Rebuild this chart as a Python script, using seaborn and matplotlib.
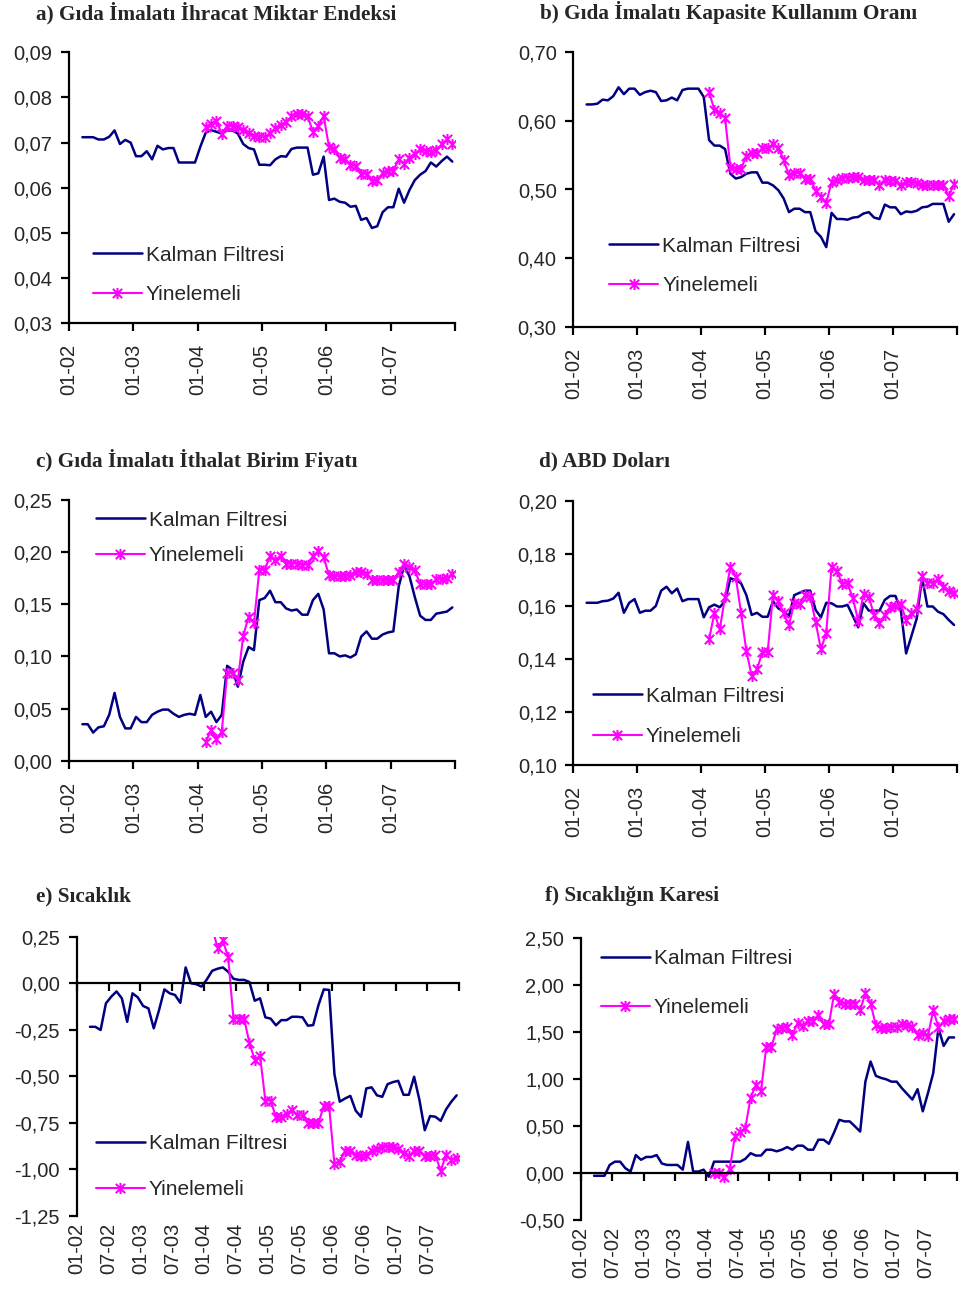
import matplotlib
matplotlib.use("Agg")
import matplotlib.pyplot as plt
import numpy as np
import pandas as pd
import seaborn as sns
from matplotlib.path import Path
from matplotlib.ticker import FuncFormatter

# monthly data, Jan 2002 - Dec 2007 (Excel category axis, points between ticks)
months = pd.date_range("2002-01-01", "2007-12-01", freq="MS")
kalman_start = 2   # Mar 2002
yin_start = 25     # Feb 2004

yearly_labels = ["01-02", "01-03", "01-04", "01-05", "01-06", "01-07", ""]
half_year_labels = ["01-02", "07-02", "01-03", "07-03", "01-04", "07-04",
                    "01-05", "07-05", "01-06", "07-06", "01-07", "07-07", ""]

titles = ["a) Gıda İmalatı İhracat Miktar Endeksi",
          "b) Gıda İmalatı Kapasite Kullanım Oranı",
          "c) Gıda İmalatı İthalat Birim Fiyatı",
          "d) ABD Doları",
          "e) Sıcaklık",
          "f) Sıcaklığın Karesi"]

a_yticks = [0.03, 0.04, 0.05, 0.06, 0.07, 0.08, 0.09]
b_yticks = [0.30, 0.40, 0.50, 0.60, 0.70]
c_yticks = [0.00, 0.05, 0.10, 0.15, 0.20, 0.25]
d_yticks = [0.10, 0.12, 0.14, 0.16, 0.18, 0.20]
e_yticks = [-1.25, -1.00, -0.75, -0.50, -0.25, 0.00, 0.25]
f_yticks = [-0.50, 0.00, 0.50, 1.00, 1.50, 2.00, 2.50]

a_kalman = [0.0712, 0.0712, 0.0712, 0.0707, 0.0707, 0.0713, 0.0727, 0.0697, 0.0706, 0.0700,
            0.0670, 0.0670, 0.0681, 0.0663, 0.0693, 0.0685, 0.0688, 0.0688, 0.0656, 0.0656,
            0.0656, 0.0656, 0.0691, 0.0722, 0.0728, 0.0724, 0.0720, 0.0727, 0.0727, 0.0720,
            0.0697, 0.0688, 0.0685, 0.0651, 0.0651, 0.0650, 0.0663, 0.0670, 0.0669, 0.0686,
            0.0689, 0.0689, 0.0689, 0.0629, 0.0632, 0.0669, 0.0573, 0.0576, 0.0569, 0.0567,
            0.0558, 0.0560, 0.0529, 0.0533, 0.0511, 0.0515, 0.0546, 0.0557, 0.0557, 0.0598,
            0.0567, 0.0595, 0.0617, 0.0629, 0.0637, 0.0656, 0.0647, 0.0659, 0.0669, 0.0658]
a_yin = [0.0735, 0.0741, 0.0749, 0.0719, 0.0737, 0.0737, 0.0734,
         0.0727, 0.0721, 0.0715, 0.0712, 0.0712, 0.0721, 0.0732, 0.0738, 0.0746, 0.0758,
         0.0763, 0.0763, 0.0759, 0.0724, 0.0737, 0.0759, 0.0691, 0.0687, 0.0665, 0.0663,
         0.0651, 0.0648, 0.0631, 0.0631, 0.0614, 0.0618, 0.0632, 0.0638, 0.0638, 0.0663,
         0.0653, 0.0667, 0.0675, 0.0685, 0.0682, 0.0680, 0.0684, 0.0696, 0.0707, 0.0697]

b_kalman = [0.624, 0.624, 0.625, 0.631, 0.630, 0.636, 0.649, 0.639, 0.647, 0.647,
            0.638, 0.642, 0.644, 0.642, 0.629, 0.630, 0.634, 0.630, 0.645, 0.647,
            0.647, 0.647, 0.635, 0.572, 0.564, 0.564, 0.559, 0.523, 0.516, 0.518,
            0.523, 0.525, 0.525, 0.510, 0.510, 0.506, 0.499, 0.487, 0.467, 0.472,
            0.472, 0.467, 0.467, 0.439, 0.431, 0.416, 0.466, 0.457, 0.457, 0.456,
            0.459, 0.460, 0.465, 0.467, 0.459, 0.457, 0.478, 0.474, 0.474, 0.464,
            0.468, 0.467, 0.469, 0.474, 0.475, 0.479, 0.479, 0.479, 0.453, 0.464]
b_yin = [0.642, 0.616, 0.611, 0.604, 0.533, 0.530, 0.530,
         0.549, 0.553, 0.553, 0.560, 0.560, 0.566, 0.561, 0.543, 0.521, 0.524,
         0.524, 0.515, 0.515, 0.498, 0.489, 0.480, 0.511, 0.514, 0.517, 0.517,
         0.518, 0.518, 0.514, 0.514, 0.514, 0.507, 0.514, 0.513, 0.513, 0.507,
         0.511, 0.511, 0.509, 0.506, 0.506, 0.506, 0.506, 0.507, 0.490, 0.508]

c_kalman = [0.035, 0.035, 0.027, 0.032, 0.033, 0.044, 0.065, 0.042, 0.031, 0.031,
            0.042, 0.037, 0.037, 0.044, 0.047, 0.049, 0.049, 0.045, 0.042, 0.044,
            0.045, 0.044, 0.063, 0.042, 0.047, 0.037, 0.044, 0.091, 0.087, 0.071,
            0.095, 0.109, 0.106, 0.154, 0.156, 0.163, 0.152, 0.152, 0.146, 0.144,
            0.145, 0.140, 0.140, 0.154, 0.160, 0.145, 0.103, 0.103, 0.100, 0.101,
            0.099, 0.102, 0.119, 0.124, 0.117, 0.117, 0.121, 0.123, 0.124, 0.167,
            0.187, 0.177, 0.157, 0.139, 0.135, 0.135, 0.141, 0.142, 0.143, 0.147]
c_yin = [0.018, 0.029, 0.021, 0.028, 0.084, 0.084, 0.077,
         0.120, 0.138, 0.132, 0.183, 0.183, 0.196, 0.192, 0.196, 0.189, 0.189,
         0.189, 0.188, 0.188, 0.196, 0.201, 0.195, 0.178, 0.177, 0.177, 0.177,
         0.178, 0.181, 0.181, 0.179, 0.173, 0.173, 0.173, 0.173, 0.173, 0.181,
         0.189, 0.186, 0.183, 0.169, 0.169, 0.169, 0.174, 0.174, 0.175, 0.179]

d_kalman = [0.1614, 0.1614, 0.1614, 0.1620, 0.1622, 0.1630, 0.1652, 0.1576, 0.1614, 0.1628,
            0.1576, 0.1584, 0.1584, 0.1602, 0.1660, 0.1675, 0.1650, 0.1668, 0.1620, 0.1628,
            0.1628, 0.1628, 0.1559, 0.1597, 0.1607, 0.1597, 0.1620, 0.1707, 0.1700, 0.1688,
            0.1643, 0.1568, 0.1576, 0.1561, 0.1561, 0.1620, 0.1593, 0.1580, 0.1564, 0.1643,
            0.1652, 0.1660, 0.1660, 0.1587, 0.1559, 0.1614, 0.1612, 0.1600, 0.1600, 0.1606,
            0.1564, 0.1521, 0.1612, 0.1584, 0.1584, 0.1584, 0.1625, 0.1640, 0.1640, 0.1587,
            0.1422, 0.1488, 0.1555, 0.1710, 0.1600, 0.1600, 0.1580, 0.1571, 0.1549, 0.1530]
d_yin = [0.1475, 0.1576, 0.1513, 0.1637, 0.1751, 0.1713, 0.1576,
         0.1432, 0.1336, 0.1362, 0.1427, 0.1427, 0.1645, 0.1622, 0.1574, 0.1530, 0.1614,
         0.1609, 0.1643, 0.1637, 0.1542, 0.1437, 0.1500, 0.1751, 0.1736, 0.1685, 0.1688,
         0.1631, 0.1546, 0.1647, 0.1635, 0.1568, 0.1536, 0.1568, 0.1597, 0.1600, 0.1609,
         0.1549, 0.1574, 0.1589, 0.1716, 0.1690, 0.1690, 0.1703, 0.1675, 0.1660, 0.1652]

e_kalman = [-0.234, -0.234, -0.251, -0.108, -0.072, -0.044, -0.081, -0.207, -0.054, -0.076,
            -0.122, -0.135, -0.242, -0.144, -0.033, -0.054, -0.063, -0.105, 0.085, 0.000,
            -0.005, -0.018, 0.021, 0.067, 0.078, 0.085, 0.062, 0.024, 0.018, 0.018,
            0.007, -0.094, -0.081, -0.183, -0.190, -0.226, -0.198, -0.198, -0.180, -0.180,
            -0.183, -0.228, -0.225, -0.117, -0.033, -0.036, -0.488, -0.636, -0.619, -0.605,
            -0.684, -0.717, -0.565, -0.559, -0.602, -0.610, -0.542, -0.531, -0.524, -0.599,
            -0.599, -0.502, -0.627, -0.789, -0.713, -0.717, -0.739, -0.678, -0.636, -0.602]
e_yin = [0.30, 0.19, 0.23, 0.14, -0.19, -0.19, -0.19,
         -0.32, -0.41, -0.39, -0.63, -0.63, -0.72, -0.72, -0.70, -0.68, -0.71,
         -0.71, -0.75, -0.75, -0.75, -0.66, -0.66, -0.97, -0.96, -0.90, -0.90,
         -0.92, -0.93, -0.92, -0.90, -0.89, -0.88, -0.88, -0.88, -0.89, -0.91,
         -0.93, -0.90, -0.90, -0.93, -0.93, -0.92, -1.01, -0.92, -0.95, -0.94]

f_kalman = [-0.03, -0.03, -0.03, 0.085, 0.12, 0.12, 0.05, 0.015, 0.19, 0.14,
            0.17, 0.17, 0.19, 0.10, 0.085, 0.085, 0.085, 0.035, 0.33, 0.015,
            0.015, 0.035, -0.04, 0.12, 0.12, 0.12, 0.12, 0.12, 0.12, 0.15,
            0.21, 0.185, 0.185, 0.247, 0.247, 0.23, 0.247, 0.275, 0.247, 0.29,
            0.29, 0.247, 0.247, 0.353, 0.353, 0.31, 0.43, 0.565, 0.548, 0.548,
            0.495, 0.44, 0.97, 1.184, 1.032, 1.01, 0.995, 0.97, 0.97, 0.90,
            0.84, 0.78, 0.89, 0.655, 0.85, 1.06, 1.54, 1.35, 1.44, 1.44]
f_yin = [0.00, 0.00, -0.04, 0.04, 0.39, 0.43, 0.48,
         0.80, 0.93, 0.87, 1.34, 1.34, 1.53, 1.54, 1.55, 1.47, 1.59,
         1.56, 1.62, 1.62, 1.68, 1.58, 1.58, 1.90, 1.82, 1.80, 1.80,
         1.80, 1.73, 1.91, 1.80, 1.57, 1.54, 1.54, 1.55, 1.55, 1.58,
         1.57, 1.55, 1.47, 1.49, 1.46, 1.73, 1.55, 1.61, 1.64, 1.64]

NAVY = "#000080"
MAGENTA = "#FF00FF"
W, H = 961, 1298

# Excel style star: an X with a vertical bar through it
star = Path([(-1, -1), (1, 1), (-1, 1), (1, -1), (0, -1.2), (0, 1.2)],
            [Path.MOVETO, Path.LINETO, Path.MOVETO, Path.LINETO, Path.MOVETO, Path.LINETO])

sns.set_style("ticks")
plt.rcParams["font.family"] = ["Liberation Sans", "DejaVu Sans"]

fig = plt.figure(figsize=(W / 100, H / 100), dpi=100)


def px_axes(left, top, right, bottom):
    return fig.add_axes([left / W, 1 - bottom / H, (right - left) / W, (bottom - top) / H])


def make_frame(kalman, yin):
    pos = np.arange(len(months)) + 0.5
    df = pd.DataFrame({"ay": months, "pos": pos})
    df["Kalman Filtresi"] = np.nan
    df.loc[kalman_start:kalman_start + len(kalman) - 1, "Kalman Filtresi"] = kalman
    df["Yinelemeli"] = np.nan
    df.loc[yin_start:yin_start + len(yin) - 1, "Yinelemeli"] = yin
    return df


def comma(v, p):
    return f"{v:.2f}".replace(".", ",")


panels = [
    # kalman, yin, yticks, box (l, t, r, b px), xlabels, step, zero axis, legend (x, mid y, spacing), title pos
    (a_kalman, a_yin, a_yticks, (69, 52.3, 455, 323.3), yearly_labels, 12, False, (92.7, 275, 1.0), (36, 13)),
    (b_kalman, b_yin, b_yticks, (573.3, 52.3, 956.7, 326.7), yearly_labels, 12, False, (609.3, 266, 1.0), (540, 13)),
    (c_kalman, c_yin, c_yticks, (69, 500, 455, 760.7), yearly_labels, 12, False, (95.7, 538, 0.8), (36, 461)),
    (d_kalman, d_yin, d_yticks, (573.3, 501, 956.7, 764.7), yearly_labels, 12, False, (592.7, 716.5, 1.05), (539, 461)),
    (e_kalman, e_yin, e_yticks, (76.7, 936.7, 459.3, 1216), half_year_labels, 6, True, (95.7, 1166.5, 1.3), (36, 896)),
    (f_kalman, f_yin, f_yticks, (581, 937.7, 956.7, 1220), half_year_labels, 6, True, (600.7, 983, 1.45), (545, 896)),
]

for (kal, yin, yticks, box, xlabels, step, zero_axis, leg, tpos), title in zip(panels, titles):
    ax = px_axes(*box)
    df = make_frame(kal, yin)
    k = df.dropna(subset=["Kalman Filtresi"])
    y = df.dropna(subset=["Yinelemeli"])
    sns.lineplot(data=k, x="pos", y="Kalman Filtresi", ax=ax, color=NAVY, lw=1.8,
                 label="Kalman Filtresi")
    sns.lineplot(data=y, x="pos", y="Yinelemeli", ax=ax, color=MAGENTA, lw=1.5,
                 marker=star, markersize=8, markeredgecolor=MAGENTA, markerfacecolor="none",
                 markeredgewidth=1.5, label="Yinelemeli")

    ax.set_xlim(0, len(months))
    ax.set_ylim(yticks[0], yticks[-1])
    ax.set_yticks(yticks)
    ax.yaxis.set_major_formatter(FuncFormatter(comma))
    ax.set_xlabel("")
    ax.set_ylabel("")
    xt = np.arange(0, len(months) + 1, step)
    ax.set_xticks(xt)
    ax.set_xticklabels(xlabels, rotation=90)
    sns.despine(ax=ax)
    for s in ("left", "bottom"):
        ax.spines[s].set_linewidth(1.6)
        ax.spines[s].set_color("black")
    ax.tick_params(axis="both", direction="out", length=6, width=1.6, color="black",
                   labelsize=14.5, pad=6)
    ax.tick_params(axis="x", pad=9)

    if zero_axis:
        ax.spines["bottom"].set_position(("data", 0))
        ax.tick_params(axis="x", labelbottom=False)
        sec = ax.secondary_xaxis("bottom")
        sec.set_xticks(xt)
        sec.set_xticklabels(xlabels, rotation=90)
        sec.tick_params(length=0, labelsize=14.5, pad=5)
        sec.spines["bottom"].set_visible(False)

    l, t, r, b = box
    lx, ly, lsp = leg
    ax.legend(loc="center left", bbox_to_anchor=((lx - l) / (r - l), (b - ly) / (b - t)),
              frameon=False, fontsize=15, handlelength=2.35, handletextpad=0.2,
              borderpad=0, borderaxespad=0, labelspacing=lsp)

    fig.text(tpos[0] / W, 1 - tpos[1] / H, title, ha="left", va="center",
             fontsize=15.3, fontweight="bold", family=["Liberation Serif", "DejaVu Serif"])

fig.savefig("out.png", dpi=100)
